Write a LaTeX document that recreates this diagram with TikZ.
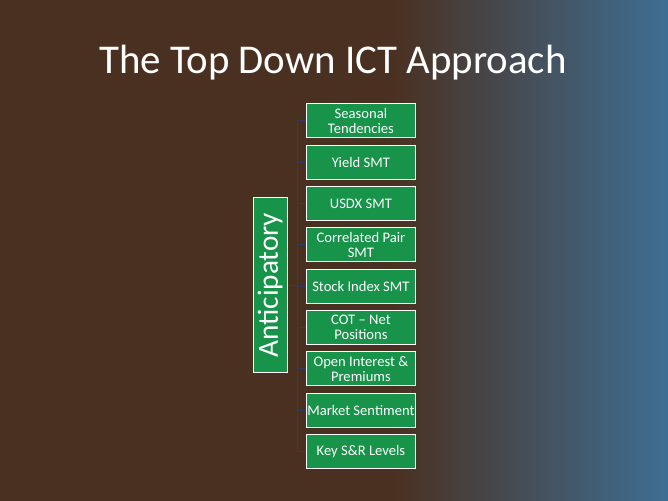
\documentclass[tikz,border=0pt]{standalone}
\usepackage{fontspec}
\setmainfont{Carlito}
\definecolor{bgbrown}{HTML}{4A3020}
\definecolor{bgblue}{HTML}{3F6E92}
\definecolor{boxgreen}{HTML}{17934A}
\definecolor{linknavy}{HTML}{2E3A6A}
\begin{document}
\begin{tikzpicture}[x=0.03cm, y=-0.03cm,
    itembox/.style={draw=white, line width=0.8pt, fill=boxgreen, text=white,
      minimum width=3.3cm, minimum height=1.02cm, align=center, font=\fontsize{12.5}{13}\selectfont, inner sep=1pt},
    link/.style={draw=linknavy, line width=0.7pt}]
	% Background
	\fill[bgbrown] (-1,-1) rectangle (392,501);
	\shade[left color=bgbrown, right color=bgblue] (390,-1) rectangle (669,501);
	\useasboundingbox (0,0) rectangle (668,500);
	
	% Title
	\node[text=white, font=\fontsize{35}{38}\selectfont] (title) at (333,62) {The Top Down ICT Approach};
	
	% Main box
	\node[itembox, minimum width=5.25cm, minimum height=1.02cm, font=\fontsize{25}{26}\selectfont, rotate=90] (ant) at (270,285) {Anticipatory};
	
	% Items
	\foreach \i/\txt in {1/Seasonal\\Tendencies, 2/Yield SMT, 3/USDX SMT, 4/Correlated Pair\\SMT,
	    5/Stock Index SMT, 6/COT -- Net\\Positions, 7/Open Interest \&\\Premiums,
	    8/Market Sentiment, 9/Key S\&R Levels} {
		\pgfmathsetmacro{\yy}{120 + (\i-1)*41.5}
		\node[itembox] (item\i) at (361,\yy) {\txt};
		\coordinate (j\i) at (297,\yy);
		\draw[link] (j\i) -- (item\i.west);
	}
	\draw[link] (j1) -- (j9);
	\draw[link] (ant.south) -- (ant.south -| j1);
\end{tikzpicture}
\end{document}
